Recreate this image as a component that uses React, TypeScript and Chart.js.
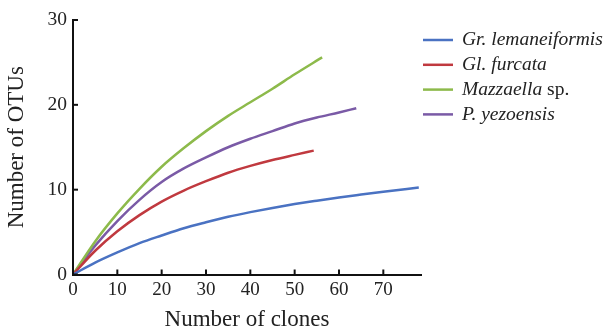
import React, { useEffect, useRef } from "react";
import { Chart, registerables } from "chart.js";

Chart.register(...registerables);

const seriesNames = ["Gr. lemaneiformis", "Gl. furcata", "Mazzaella sp.", "P. yezoensis"];
const seriesColors = ["#4a72c2", "#c0393f", "#8dba4b", "#7a5aa6"];

const xBlue = [0, 5, 10, 15, 20, 25, 30, 35, 40, 45, 50, 55, 60, 65, 70, 78];
const yBlue = [0, 1.4, 2.6, 3.7, 4.6, 5.45, 6.15, 6.8, 7.35, 7.85, 8.3, 8.7, 9.08, 9.42, 9.75, 10.25];

const xRed = [0, 5, 10, 15, 20, 25, 30, 35, 40, 45, 50, 54.3];
const yRed = [0, 2.8, 5.1, 7.0, 8.6, 9.9, 11.0, 12.0, 12.8, 13.5, 14.1, 14.6];

const xGreen = [0, 5, 10, 15, 20, 25, 30, 35, 40, 45, 50, 56.2];
const yGreen = [0, 3.9, 7.2, 10.1, 12.7, 14.9, 16.9, 18.7, 20.3, 21.9, 23.6, 25.6];

const xPurple = [0, 5, 10, 15, 20, 25, 30, 35, 40, 45, 50, 55, 60, 63.9];
const yPurple = [0, 3.4, 6.3, 8.8, 10.9, 12.5, 13.8, 15.0, 16.0, 16.9, 17.8, 18.5, 19.1, 19.6];

const xTicks = [0, 10, 20, 30, 40, 50, 60, 70];
const yTicks = [0, 10, 20, 30];

const toPts = (xs: number[], ys: number[]) => xs.map((x, i) => ({ x, y: ys[i] }));

const SERIF = "'Liberation Serif', 'DejaVu Serif', serif";

const inwardTicks = {
  id: "inwardTicks",
  afterDraw(chart: any) {
    const ctx = chart.ctx;
    const xs = chart.scales.x;
    const ys = chart.scales.y;
    ctx.save();
    ctx.strokeStyle = "#111";
    ctx.lineWidth = 2;
    xTicks.forEach((t) => {
      const px = xs.getPixelForValue(t);
      ctx.beginPath();
      ctx.moveTo(px, ys.bottom);
      ctx.lineTo(px, ys.bottom - 5);
      ctx.stroke();
    });
    yTicks.forEach((t) => {
      const py = ys.getPixelForValue(t);
      ctx.beginPath();
      ctx.moveTo(xs.left, py);
      ctx.lineTo(xs.left + 5, py);
      ctx.stroke();
    });
    ctx.restore();
  },
};

const customLegend = {
  id: "customLegend",
  afterDraw(chart: any) {
    const ctx = chart.ctx;
    const area = chart.chartArea;
    const x0 = area.right + 2;
    const y0 = area.top + 20;
    const step = 24.8;
    ctx.save();
    ctx.textBaseline = "middle";
    seriesNames.forEach((name, i) => {
      const y = y0 + i * step;
      ctx.strokeStyle = seriesColors[i];
      ctx.lineWidth = 2.5;
      ctx.beginPath();
      ctx.moveTo(x0, y);
      ctx.lineTo(x0 + 30, y);
      ctx.stroke();
      ctx.fillStyle = "#222";
      let tx = x0 + 39;
      if (name.endsWith(" sp.")) {
        const base = name.slice(0, -4);
        ctx.font = `italic 19.5px ${SERIF}`;
        ctx.fillText(base, tx, y);
        tx += ctx.measureText(base).width;
        ctx.font = `19.5px ${SERIF}`;
        ctx.fillText(" sp.", tx, y);
      } else {
        ctx.font = `italic 19.5px ${SERIF}`;
        ctx.fillText(name, tx, y);
      }
    });
    ctx.restore();
  },
};

export default function App() {
  const ref = useRef<HTMLCanvasElement | null>(null);
  useEffect(() => {
    if (!ref.current) return;
    const datasets = [
      toPts(xBlue, yBlue),
      toPts(xRed, yRed),
      toPts(xGreen, yGreen),
      toPts(xPurple, yPurple),
    ].map((data, i) => ({
      label: seriesNames[i],
      data,
      borderColor: seriesColors[i],
      backgroundColor: seriesColors[i],
      borderWidth: 2.5,
      pointRadius: 0,
      cubicInterpolationMode: "monotone" as const,
      fill: false,
    }));
    const chart = new Chart(ref.current, {
      type: "line",
      data: { datasets },
      options: {
        responsive: false,
        animation: false,
        layout: { padding: { left: 2, right: 185, top: 20, bottom: 0 } },
        plugins: { legend: { display: false }, tooltip: { enabled: false } },
        scales: {
          x: {
            type: "linear",
            min: 0,
            max: 78.5,
            afterBuildTicks: (s: any) => {
              s.ticks = xTicks.map((v) => ({ value: v }));
            },
            grid: { display: false, drawTicks: false },
            border: { display: true, color: "#111", width: 2 },
            ticks: { color: "#222", font: { family: SERIF, size: 19 }, padding: 4.6 },
            title: {
              display: true,
              text: "Number of clones",
              color: "#222",
              font: { family: SERIF, size: 23, lineHeight: 1 },
              padding: { top: 1.5, bottom: 0 },
            },
          },
          y: {
            type: "linear",
            min: 0,
            max: 30,
            afterBuildTicks: (s: any) => {
              s.ticks = yTicks.map((v) => ({ value: v }));
            },
            grid: { display: false, drawTicks: false },
            border: { display: true, color: "#111", width: 2 },
            ticks: { color: "#222", font: { family: SERIF, size: 19.5 }, padding: 6 },
            title: {
              display: true,
              text: "Number of OTUs",
              color: "#222",
              font: { family: SERIF, size: 23, lineHeight: 1 },
              padding: { top: 3.5, bottom: 13 },
            },
          },
        },
      },
      plugins: [inwardTicks, customLegend],
    });
    return () => chart.destroy();
  }, []);
  return (
    <div style={{ position: "fixed", left: 0, top: 0, width: 606, height: 331, background: "#fff" }}>
      <canvas ref={ref} width={606} height={331} style={{ display: "block" }} />
    </div>
  );
}
